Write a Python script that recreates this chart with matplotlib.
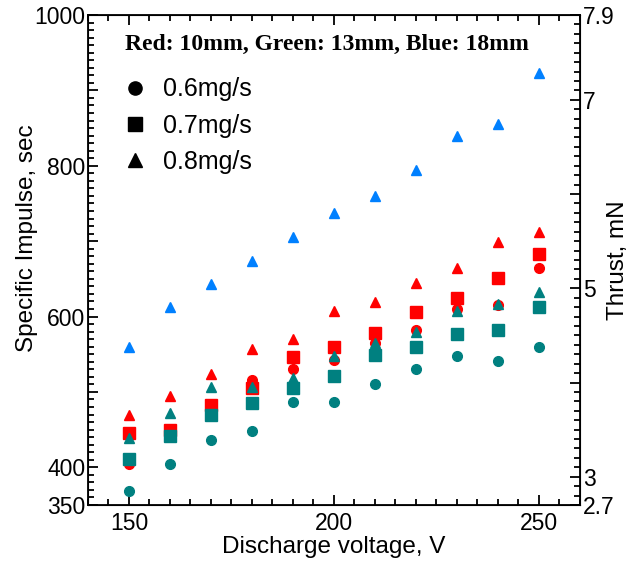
import matplotlib
matplotlib.use('Agg')
from matplotlib import pyplot as plt
from matplotlib.lines import Line2D
from matplotlib.ticker import MultipleLocator

plt.rcParams['font.family'] = ['Liberation Sans', 'DejaVu Sans']

# discharge voltage, V
voltage = [150, 160, 170, 180, 190, 200, 210, 220, 230, 240, 250]

# specific impulse, sec  (red = 10mm, green = 13mm, blue = 18mm)
red_06 = [405, 448, 477, 516, 531, 542, 565, 582, 610, 615, 665]
red_07 = [445, 450, 482, 505, 546, 560, 578, 606, 624, 651, 683]
red_08 = [470, 495, 524, 557, 570, 607, 619, 644, 665, 699, 712]
green_06 = [368, 404, 436, 448, 487, 487, 511, 530, 548, 541, 560]
green_07 = [411, 442, 469, 485, 505, 521, 549, 559, 577, 582, 612]
green_08 = [439, 472, 506, 506, 519, 548, 565, 580, 607, 617, 632]
blue_08 = [560, 613, 643, 674, 705, 737, 760, 795, 840, 856, 923]

isp_ticks = [350, 400, 500, 600, 700, 800, 900, 1000]
isp_labels = ['350', '400', '', '600', '', '800', '', '1000']
thrust_ticks = [2.7, 3, 4, 5, 6, 7, 7.9]
thrust_labels = ['2.7', '3', '', '5', '', '7', '7.9']
flow_labels = ['0.6mg/s', '0.7mg/s', '0.8mg/s']

RED = '#ff0000'
GREEN = '#008080'
BLUE = '#0080ff'

fig = plt.figure(figsize=(6.34, 5.63), dpi=100)
ax = fig.add_axes([0.1388, 0.103, 0.776, 0.8704])

ax.plot(voltage, red_06, 'o', color=RED, ms=7, ls='none')
ax.plot(voltage, red_07, 's', color=RED, ms=8, ls='none')
ax.plot(voltage, red_08, '^', color=RED, ms=7.5, ls='none')
ax.plot(voltage, green_06, 'o', color=GREEN, ms=7, ls='none')
ax.plot(voltage, green_07, 's', color=GREEN, ms=8, ls='none')
ax.plot(voltage, green_08, '^', color=GREEN, ms=7.5, ls='none')
ax.plot(voltage, blue_08, '^', color=BLUE, ms=7.5, ls='none')

ax.set_xlim(140, 260)
ax.set_ylim(350, 1000)
ax.xaxis.set_major_locator(MultipleLocator(50))
ax.xaxis.set_minor_locator(MultipleLocator(5))
ax.set_yticks(isp_ticks)
ax.set_yticklabels(isp_labels)
ax.yaxis.set_minor_locator(MultipleLocator(10))
ax.tick_params(which='both', direction='in', top=True, right=False, width=1.3)
ax.tick_params(which='major', length=7.5, labelsize=16.5)
ax.tick_params(which='minor', length=4.5)
ax.tick_params(axis='x', pad=5)
ax.tick_params(axis='y', pad=2)
for s in ax.spines.values():
    s.set_linewidth(1.3)

ax.set_xlabel('Discharge voltage, V', fontsize=17.5, labelpad=1)
ax.set_ylabel('Specific Impulse, sec', fontsize=17.5)
ax.yaxis.set_label_coords(-0.102, 0.545)

ax2 = ax.twinx()
ax2.set_ylim(2.7, 7.9)
ax2.set_yticks(thrust_ticks)
ax2.set_yticklabels(thrust_labels)
ax2.yaxis.set_minor_locator(MultipleLocator(0.1))
ax2.tick_params(which='both', direction='in', width=1.3, pad=2)
ax2.tick_params(which='major', length=7.5, labelsize=16.5)
ax2.tick_params(which='minor', length=4.5)
ax2.set_ylabel('Thrust, mN', fontsize=17.5)
ax2.yaxis.set_label_coords(1.055, 0.5)

ax.text(0.075, 0.939, 'Red: 10mm, Green: 13mm, Blue: 18mm', transform=ax.transAxes,
        family=['Liberation Serif', 'DejaVu Serif'], fontweight='bold', fontsize=17,
        ha='left', va='center')

handles = [Line2D([], [], marker=m, color='black', ls='none', ms=ms)
           for m, ms in zip(['o', 's', '^'], [9.5, 10, 10])]
ax.legend(handles, flow_labels, loc='upper left', bbox_to_anchor=(0.05, 0.893),
          frameon=False, fontsize=18, handlelength=1.0, handletextpad=0.62,
          labelspacing=0.49, borderaxespad=0)

fig.savefig('out.png', dpi=100)
